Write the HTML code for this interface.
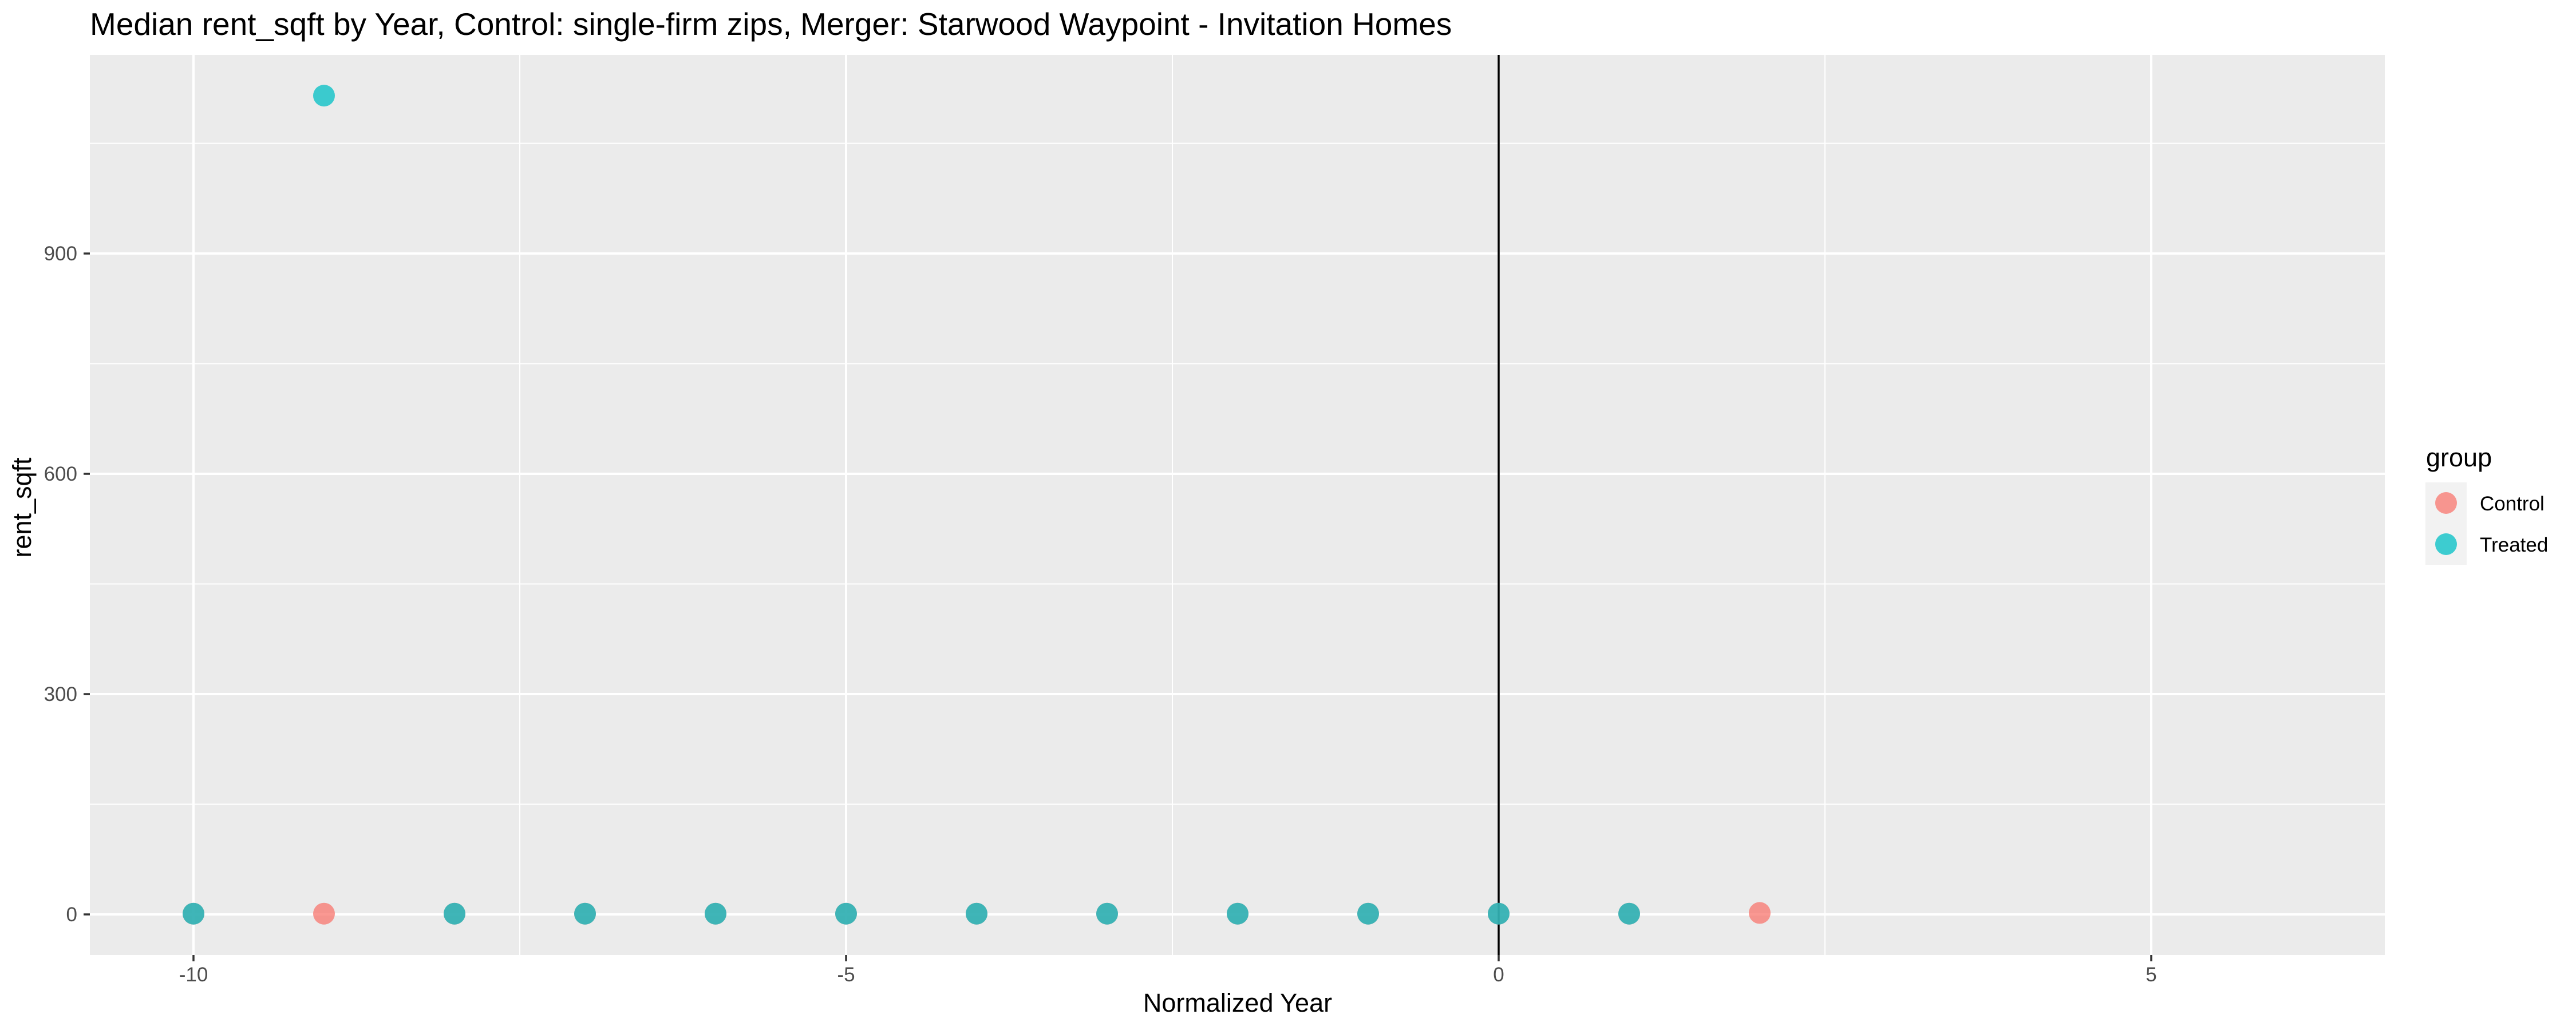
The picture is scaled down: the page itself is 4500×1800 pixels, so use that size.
<!DOCTYPE html>
<html><head><meta charset="utf-8"><style>
html,body{margin:0;padding:0;background:#fff;}
svg{display:block;font-family:"Liberation Sans",sans-serif;}
</style></head><body>
<svg id="chart" width="4500" height="1800" viewBox="0 0 4500 1800">
<rect width="4500" height="1800" fill="#fff"/>
<text x="157" y="61" font-size="55" fill="#000">Median rent_sqft by Year, Control: single-firm zips, Merger: Starwood Waypoint - Invitation Homes</text>
<rect x="157" y="96" width="4009" height="1573" fill="#ebebeb"/>
<g id="grid"></g>
<g id="axes"></g>
<g id="points"></g>
<text x="2162" y="1768" font-size="45" text-anchor="middle" fill="#000">Normalized Year</text>
<text transform="translate(54,887) rotate(-90)" font-size="45" text-anchor="middle" fill="#000">rent_sqft</text>
<g>
<text x="4238" y="815" font-size="45" fill="#000">group</text>
<rect x="4237" y="843" width="72" height="144" fill="#f2f2f2"/>
<circle cx="4273" cy="879" r="19" fill="#F8766D" fill-opacity="0.75"/>
<circle cx="4273" cy="951" r="19" fill="#00BFC4" fill-opacity="0.75"/>
<text x="4332" y="892" font-size="35" fill="#000">Control</text>
<text x="4332" y="964" font-size="35" fill="#000">Treated</text>
</g>
</svg>
<script>
const xTicks = [-10, -5, 0, 5];
const xMinor = [-7.5, -2.5, 2.5];
const yTicks = [0, 300, 600, 900];
const yMinor = [150, 450, 750, 1050];
const controlYears = [-10, -9, -8, -7, -6, -5, -4, -3, -2, -1, 0, 1, 2];
const controlValues = [1, 1, 1, 1, 1, 1, 1, 1, 1, 1, 1, 1, 2];
const treatedYears = [-10, -9, -8, -7, -6, -5, -4, -3, -2, -1, 0, 1];
const treatedValues = [1, 1115, 1, 1, 1, 1, 1, 1, 1, 1, 1, 1];

const PL = 157, PR = 4166, PT = 96, PB = 1669;
const X0 = 2618, XU = 228;
const Y0 = 1598, YU = 1.2833;
const sx = v => X0 + v * XU;
const sy = v => Y0 - v * YU;
const NS = 'http://www.w3.org/2000/svg';
function mk(tag, attrs, parent) {
  const e = document.createElementNS(NS, tag);
  for (const k in attrs) e.setAttribute(k, attrs[k]);
  parent.appendChild(e);
  return e;
}
const grid = document.getElementById('grid');
const axes = document.getElementById('axes');
const pts = document.getElementById('points');

xMinor.forEach(v => {
  const l = mk('line', {x1: sx(v), x2: sx(v), y1: PT, y2: PB, stroke: '#fff', 'stroke-width': 2}, grid);
  
  
});
yMinor.forEach(v => {
  const l = mk('line', {x1: PL, x2: PR, y1: sy(v), y2: sy(v), stroke: '#fff', 'stroke-width': 2}, grid);
  
  
});
xTicks.forEach(v => {
  const l = mk('line', {x1: sx(v), x2: sx(v), y1: PT, y2: PB, stroke: '#fff', 'stroke-width': 4}, grid);
  
  
  const t = mk('line', {x1: sx(v), x2: sx(v), y1: PB, y2: PB + 11, stroke: '#333', 'stroke-width': 3.5}, axes);
  
  
  const tx = mk('text', {x: sx(v), y: 1715, 'font-size': 35, 'text-anchor': 'middle', fill: '#4d4d4d'}, axes);
  tx.textContent = String(v);
  
  
});
yTicks.forEach(v => {
  const l = mk('line', {x1: PL, x2: PR, y1: sy(v), y2: sy(v), stroke: '#fff', 'stroke-width': 4}, grid);
  
  
  const t = mk('line', {x1: PL - 11, x2: PL, y1: sy(v), y2: sy(v), stroke: '#333', 'stroke-width': 3.5}, axes);
  
  
  const tx = mk('text', {x: 135, y: sy(v) + 12, 'font-size': 35, 'text-anchor': 'end', fill: '#4d4d4d'}, axes);
  tx.textContent = String(v);
  
  
});
const vl = mk('line', {x1: sx(0), x2: sx(0), y1: PT, y2: PB, stroke: '#000', 'stroke-width': 3.5}, axes);



controlYears.forEach((yr, i) => {
  const c = mk('circle', {cx: sx(yr), cy: sy(controlValues[i]), r: 19, fill: '#F8766D', 'fill-opacity': 0.75}, pts);
  
  
});
treatedYears.forEach((yr, i) => {
  const c = mk('circle', {cx: sx(yr), cy: sy(treatedValues[i]), r: 19, fill: '#00BFC4', 'fill-opacity': 0.75}, pts);
  
  
});
</script>
</body></html>
